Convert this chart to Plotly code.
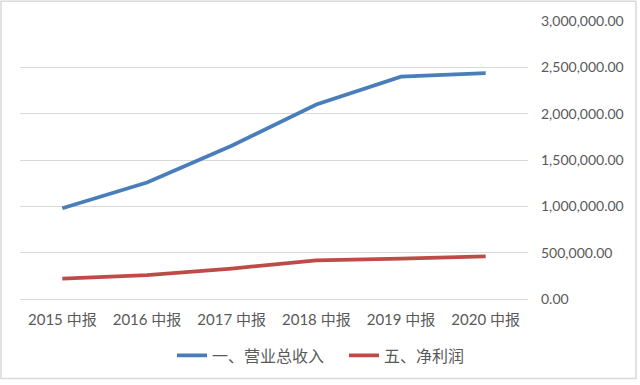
import plotly.graph_objects as go

categories = ["2015 中报", "2016 中报", "2017 中报", "2018 中报", "2019 中报", "2020 中报"]
revenue = [980000, 1258000, 1654000, 2098000, 2400000, 2437000]
net_profit = [219000, 257000, 329000, 418000, 436000, 461000]
y_ticks = [0, 500000, 1000000, 1500000, 2000000, 2500000, 3000000]
series_names = ["一、营业总收入", "五、净利润"]

W, H = 640, 385
ml, mr, mt, mb = 20, 112, 21, 84

fig = go.Figure()
fig.add_trace(go.Scatter(x=categories, y=revenue, mode="lines", name=series_names[0],
                         line=dict(color="#4A7EBB", width=3.75)))
fig.add_trace(go.Scatter(x=categories, y=net_profit, mode="lines", name=series_names[1],
                         line=dict(color="#BE4B48", width=3.75)))

pw = W - ml - mr
ph = H - mt - mb
# outer chart-area border (pixel positions converted to paper coords)
bx0, bx1, by0, by1 = 1, 636, 1, 381
fig.add_shape(type="rect", xref="paper", yref="paper",
              x0=(bx0 - ml) / pw, x1=(bx1 - ml) / pw,
              y0=(H - mb - by1) / ph, y1=(H - mb - by0) / ph,
              line=dict(color="#D9D9D9", width=1.5), layer="below")

font = "Lato, 'Noto Sans CJK SC', sans-serif"
leg_y_px = 358
leg_x_px = 172
fig.update_layout(
    width=W, height=H,
    margin=dict(l=ml, r=mr, t=mt, b=mb),
    paper_bgcolor="white", plot_bgcolor="white",
    font=dict(family=font, size=14, color="#595959"),
    showlegend=True,
    legend=dict(orientation="h", x=(leg_x_px - ml) / pw, xanchor="left",
                y=-(leg_y_px - (H - mb)) / ph, yanchor="middle",
                font=dict(size=16, color="#595959"), itemwidth=30,
                entrywidth=127, entrywidthmode="pixels"),
    xaxis=dict(type="category", range=[-0.5, 5.5], showgrid=False, zeroline=False,
               showline=False, ticks="", tickfont=dict(size=15), automargin=False,
               ticklabelstandoff=10),
    yaxis=dict(side="right", range=[0, 3000000], tickvals=y_ticks, tickformat=",.2f",
               showgrid=True, gridcolor="#D9D9D9", gridwidth=1, zeroline=True,
               zerolinecolor="#D9D9D9", zerolinewidth=1, showline=False, ticks="",
               tickfont=dict(size=14), automargin=False, ticklabelstandoff=12),
)

fig.write_html("out.html",
               post_script="document.body.style.margin='0';document.body.style.overflow='hidden';",
               config={"displayModeBar": False})
